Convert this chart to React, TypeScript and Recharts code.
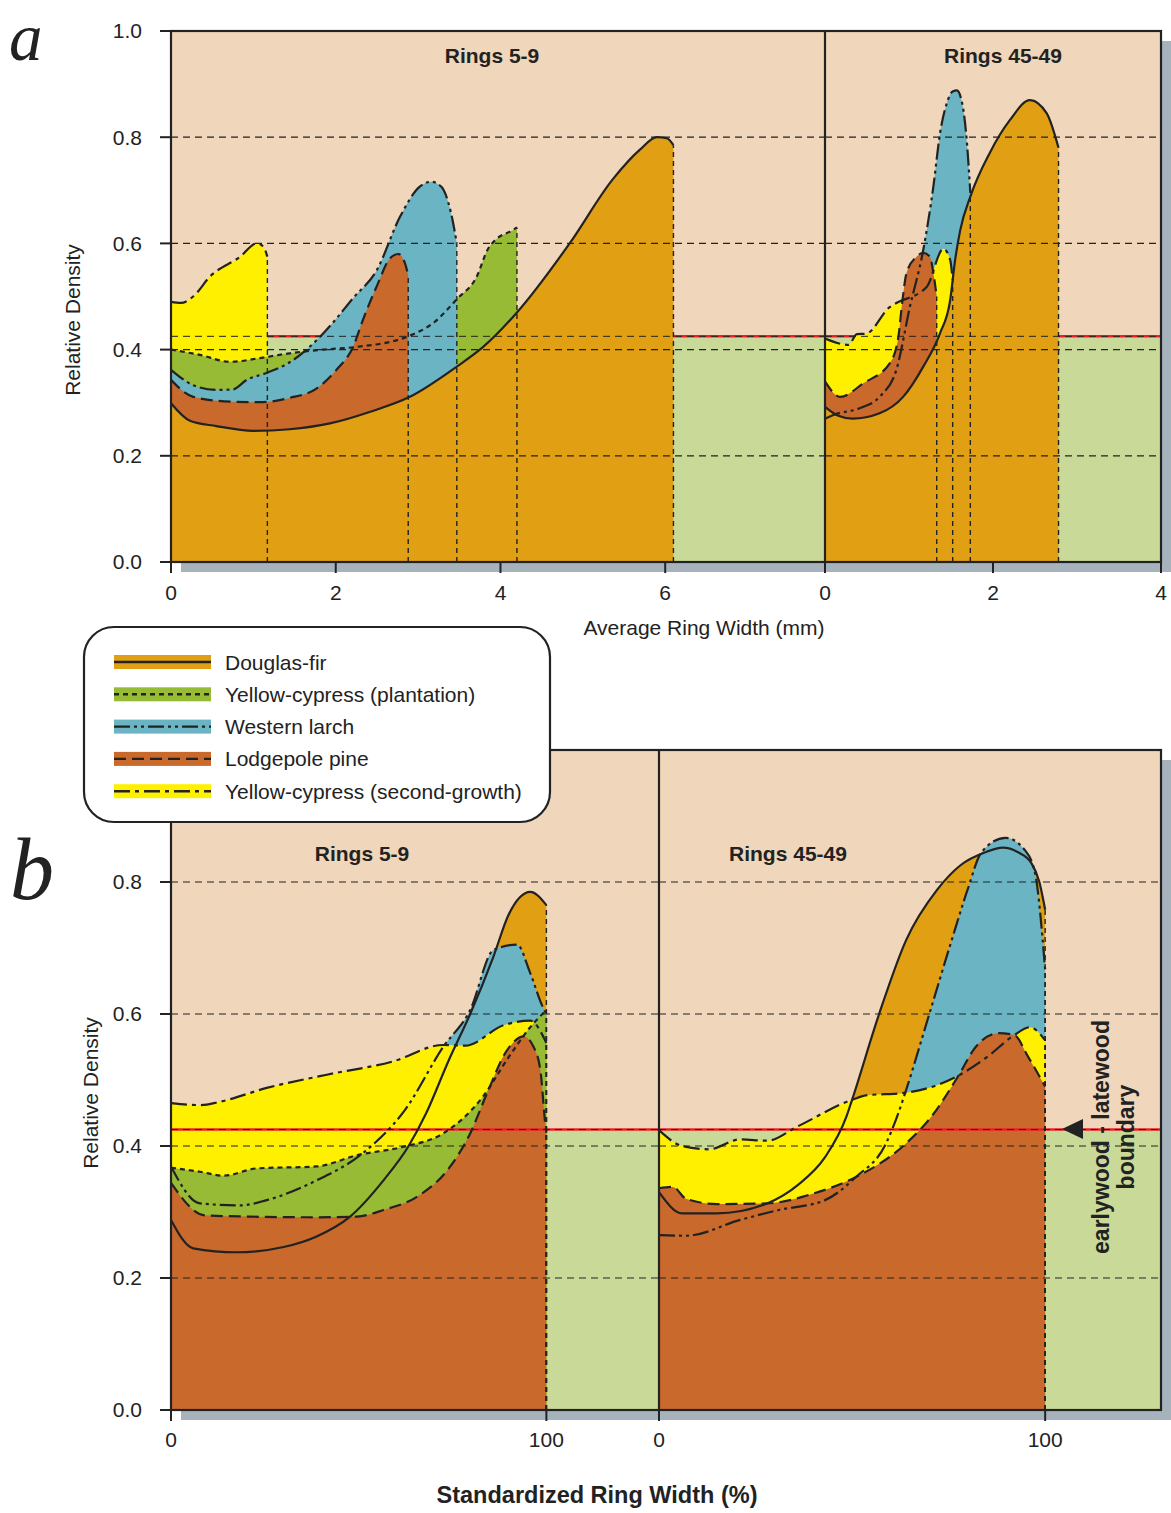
import React from 'react'
import {
    ComposedChart,
    Area,
    Line,
    XAxis,
    YAxis,
    ReferenceArea,
    ReferenceLine,
} from 'recharts'

type Point = [number, number]

// (a) rings 5-9, x = average ring width (mm)
const aEarlyDouglas: Point[] = [[0, 0.299], [0.23, 0.266], [0.55, 0.256], [1.0, 0.247], [1.44, 0.25], [1.93, 0.261], [2.42, 0.283], [2.9, 0.311], [3.47, 0.368], [3.79, 0.405], [4.2, 0.47], [4.84, 0.6], [5.36, 0.72], [5.69, 0.776], [5.9, 0.8], [6.02, 0.798], [6.1, 0.785]]
const aEarlyPlantation: Point[] = [[0, 0.4], [0.35, 0.39], [0.72, 0.377], [1.08, 0.384], [1.44, 0.393], [1.85, 0.4], [2.25, 0.405], [2.86, 0.424], [3.2, 0.452], [3.47, 0.495], [3.71, 0.537], [3.85, 0.59], [3.95, 0.608], [4.15, 0.625], [4.2, 0.63]]
const aEarlyLarch: Point[] = [[0, 0.362], [0.27, 0.333], [0.55, 0.324], [0.75, 0.325], [0.92, 0.343], [1.16, 0.356], [1.48, 0.38], [1.77, 0.418], [2.0, 0.457], [2.2, 0.495], [2.5, 0.55], [2.78, 0.65], [3.02, 0.707], [3.16, 0.716], [3.28, 0.707], [3.4, 0.657], [3.47, 0.6]]
const aEarlyLodgepole: Point[] = [[0, 0.343], [0.27, 0.311], [0.72, 0.302], [1.08, 0.301], [1.44, 0.309], [1.77, 0.327], [2.01, 0.362], [2.21, 0.405], [2.33, 0.456], [2.5, 0.52], [2.66, 0.572], [2.76, 0.58], [2.84, 0.563], [2.88, 0.54]]
const aEarlySecond: Point[] = [[0, 0.49], [0.12, 0.488], [0.27, 0.5], [0.47, 0.537], [0.84, 0.575], [1.04, 0.6], [1.12, 0.594], [1.17, 0.575]]

// (a) rings 45-49
const aLateDouglas: Point[] = [[0, 0.292], [0.15, 0.276], [0.33, 0.27], [0.65, 0.28], [0.93, 0.311], [1.17, 0.368], [1.37, 0.431], [1.49, 0.493], [1.55, 0.57], [1.61, 0.625], [1.73, 0.688], [1.96, 0.77], [2.2, 0.832], [2.44, 0.87], [2.64, 0.845], [2.78, 0.78]]
const aLateLarch: Point[] = [[0, 0.27], [0.1, 0.277], [0.42, 0.29], [0.65, 0.311], [0.85, 0.362], [1.01, 0.48], [1.17, 0.588], [1.29, 0.707], [1.37, 0.808], [1.45, 0.864], [1.52, 0.886], [1.57, 0.888], [1.64, 0.858], [1.69, 0.789], [1.73, 0.695]]
const aLateLodgepole: Point[] = [[0, 0.34], [0.18, 0.311], [0.46, 0.337], [0.77, 0.374], [0.87, 0.42], [0.92, 0.49], [0.97, 0.544], [1.09, 0.575], [1.17, 0.582], [1.25, 0.575], [1.29, 0.544], [1.33, 0.5]]
const aLateSecond: Point[] = [[0, 0.421], [0.28, 0.409], [0.38, 0.429], [0.49, 0.43], [0.77, 0.48], [0.83, 0.486], [1.21, 0.518], [1.41, 0.59], [1.49, 0.569], [1.52, 0.531]]

// (b) rings 5-9, x = standardized ring width (%)
const bEarlyDouglas: Point[] = [[0, 0.288], [5.9, 0.245], [17.5, 0.239], [30, 0.247], [38.8, 0.263], [47.7, 0.293], [56.6, 0.348], [63.3, 0.4], [68, 0.45], [74, 0.53], [79.7, 0.6], [85.9, 0.687], [89.9, 0.75], [95.7, 0.785], [100, 0.765]]
const bEarlyPlantation: Point[] = [[0, 0.367], [7.7, 0.361], [14, 0.355], [22.8, 0.366], [38.8, 0.369], [49.5, 0.386], [62, 0.399], [72.5, 0.419], [83, 0.474], [90, 0.535], [95.7, 0.58], [100, 0.606]]
const bEarlyLarch: Point[] = [[0, 0.369], [7.7, 0.313], [18.4, 0.31], [25.5, 0.318], [38.8, 0.348], [51.3, 0.39], [62, 0.452], [72.5, 0.55], [79.7, 0.606], [85.9, 0.697], [92.2, 0.705], [95.7, 0.662], [99, 0.611], [100, 0.6]]
const bEarlyLodgepole: Point[] = [[0, 0.344], [9, 0.295], [21, 0.293], [38.8, 0.292], [49.5, 0.293], [56.6, 0.303], [65.5, 0.323], [74.4, 0.369], [79.7, 0.419], [84.2, 0.48], [89.5, 0.545], [94, 0.566], [96.6, 0.55], [98.4, 0.515], [99.7, 0.434], [100, 0.42]]
const bEarlySecond: Point[] = [[0, 0.465], [8, 0.462], [13, 0.467], [25.5, 0.488], [41.5, 0.508], [59, 0.528], [72.5, 0.553], [78.4, 0.552], [88.6, 0.583], [95.7, 0.59], [100, 0.556]]

// (b) rings 45-49
const bLateDouglas: Point[] = [[0, 0.33], [6, 0.298], [15, 0.298], [28, 0.313], [36, 0.341], [43, 0.383], [48.5, 0.444], [50, 0.47], [57, 0.6], [64, 0.712], [72, 0.788], [78, 0.825], [84.5, 0.845], [89, 0.852], [93, 0.845], [96.4, 0.829], [98.5, 0.8], [100, 0.758]]
const bLateLarch: Point[] = [[0, 0.265], [7, 0.264], [21, 0.288], [31, 0.303], [43, 0.318], [51, 0.353], [58.8, 0.404], [62, 0.45], [64, 0.485], [70, 0.6], [75.8, 0.712], [80, 0.79], [83.5, 0.845], [89.7, 0.867], [94.8, 0.848], [97.4, 0.813], [100, 0.667]]
const bLateLodgepole: Point[] = [[0, 0.336], [3.6, 0.338], [7, 0.32], [15, 0.312], [28, 0.313], [40, 0.328], [51, 0.353], [64, 0.404], [70.6, 0.445], [77.6, 0.507], [82, 0.55], [88, 0.571], [92, 0.568], [95.6, 0.535], [100, 0.49]]
const bLateSecond: Point[] = [[0, 0.424], [6, 0.4], [13, 0.395], [21, 0.41], [28, 0.408], [36, 0.43], [50, 0.47], [54, 0.477], [63, 0.48], [77, 0.505], [85, 0.535], [92, 0.568], [96, 0.58], [100, 0.56]]

const boundary = 0.425
const gridLevels = [0.2, 0.4, 0.6, 0.8]
const aYTicks = [0, 0.2, 0.4, 0.6, 0.8, 1.0]
const bYTicks = [0, 0.2, 0.4, 0.6, 0.8]
const aEarlyXTicks = [0, 2, 4, 6]
const aLateXTicks = [0, 2, 4]
const bXTicks = [0, 100]

const FONT = '"Liberation Sans", Arial, Helvetica, sans-serif'
const INK = '#222'
const PEACH = '#F0D6BA'
const PALE_GREEN = '#C9DA98'
const RED = '#E8202A'
const SHADOW = '#A6B3BD'

const species: Record<string, { name: string; color: string; dash?: string }> = {
    df: { name: 'Douglas-fir', color: '#E1A014' },
    pl: { name: 'Yellow-cypress (plantation)', color: '#97BB34', dash: '5 4' },
    wl: { name: 'Western larch', color: '#6BB4C3', dash: '16 4 3 4 3 4' },
    lp: { name: 'Lodgepole pine', color: '#C9692C', dash: '12 6' },
    sg: { name: 'Yellow-cypress (second-growth)', color: '#FFF000', dash: '16 5 4 5' },
}
const legendOrder = ['df', 'pl', 'wl', 'lp', 'sg']

type SeriesSet = Record<string, Point[]>

function buildTable(set: SeriesSet) {
    const xs = Array.from(new Set(Object.values(set).flatMap((s) => s.map((p) => p[0])))).sort((a, b) => a - b)
    return xs.map((x) => {
        const row: Record<string, number | null> = { x }
        for (const [key, pts] of Object.entries(set)) {
            const hit = pts.find((p) => p[0] === x)
            row[key] = hit ? hit[1] : null
        }
        return row
    })
}

type SubPanelProps = {
    left: number
    top: number
    width: number
    height: number
    marginTop: number
    marginLeft: number
    marginRight: number
    xAxisHeight: number
    xMax: number
    xTicks: number[]
    xTickMargin: number
    yTicks: number[]
    showY: boolean
    redOnTop: boolean
    set: SeriesSet
    order: string[]
}

function SubPanel(p: SubPanelProps) {
    const table = buildTable(p.set)
    const tickStyle = { fill: INK, fontSize: 21, fontFamily: FONT }
    return (
        <div style={{ position: 'absolute', left: p.left, top: p.top }}>
            <ComposedChart
                width={p.width}
                height={p.height}
                data={table}
                margin={{ top: p.marginTop, right: p.marginRight, bottom: 0, left: p.marginLeft }}
            >
                <XAxis
                    type="number"
                    dataKey="x"
                    domain={[0, p.xMax]}
                    ticks={p.xTicks}
                    interval={0}
                    height={p.xAxisHeight}
                    axisLine={false}
                    tickSize={11}
                    tickMargin={p.xTickMargin}
                    tickLine={{ stroke: INK, strokeWidth: 2 }}
                    tick={tickStyle}
                />
                <YAxis
                    type="number"
                    domain={[0, 1]}
                    ticks={p.yTicks}
                    interval={0}
                    hide={!p.showY}
                    width={171}
                    axisLine={false}
                    tickSize={11}
                    tickMargin={18}
                    tickLine={{ stroke: INK, strokeWidth: 2 }}
                    tick={tickStyle}
                    tickFormatter={(v: number) => v.toFixed(1)}
                />
                <ReferenceArea y1={boundary} y2={1} fill={PEACH} fillOpacity={1} stroke="none" zIndex={-300} />
                <ReferenceArea y1={0} y2={boundary} fill={PALE_GREEN} fillOpacity={1} stroke="none" zIndex={-300} />
                {!p.redOnTop && (
                    <ReferenceLine y={boundary} stroke={RED} strokeWidth={2.5} zIndex={-250} />
                )}
                {p.order.map((k) => (
                    <Area
                        key={'fill-' + k}
                        dataKey={k}
                        type="monotone"
                        fill={species[k].color}
                        fillOpacity={1}
                        stroke="none"
                        connectNulls
                        dot={false}
                        activeDot={false}
                        isAnimationActive={false}
                    />
                ))}
                {gridLevels.map((g) => (
                    <ReferenceLine
                        key={'grid-' + g}
                        y={g}
                        stroke={INK}
                        strokeWidth={1.2}
                        strokeDasharray="7 5"
                        zIndex={300}
                    />
                ))}
                {p.redOnTop && (
                    <ReferenceLine y={boundary} stroke={RED} strokeWidth={2.5} zIndex={300} />
                )}
                <ReferenceLine y={boundary} stroke={INK} strokeWidth={1} strokeDasharray="7 5" zIndex={310} />
                {p.order.map((k) => {
                    const pts = p.set[k]
                    const [ex, ey] = pts[pts.length - 1]
                    return (
                        <ReferenceLine
                            key={'end-' + k}
                            segment={[
                                { x: ex, y: 0 },
                                { x: ex, y: ey },
                            ]}
                            stroke={INK}
                            strokeWidth={1.4}
                            strokeDasharray="5 4"
                            zIndex={320}
                        />
                    )
                })}
                {p.order.map((k) => (
                    <Line
                        key={'line-' + k}
                        dataKey={k}
                        type="monotone"
                        stroke={INK}
                        strokeWidth={2.2}
                        strokeDasharray={species[k].dash}
                        connectNulls
                        dot={false}
                        activeDot={false}
                        isAnimationActive={false}
                    />
                ))}
            </ComposedChart>
        </div>
    )
}

function Legend() {
    return (
        <g>
            <rect x={84} y={627} width={466} height={195} rx={30} fill="#fff" stroke={INK} strokeWidth={2.2} />
            {legendOrder.map((k, i) => {
                const y = 662 + i * 32.3
                const s = species[k]
                return (
                    <g key={k}>
                        <rect x={114} y={y - 7} width={97} height={14} fill={s.color} />
                        <line x1={114} x2={211} y1={y} y2={y} stroke={INK} strokeWidth={2.4} strokeDasharray={s.dash} />
                        <text x={225} y={y} dominantBaseline="central" fontSize={21} fontFamily={FONT} fill={INK}>
                            {s.name}
                        </text>
                    </g>
                )
            })}
        </g>
    )
}

export default function App() {
    const boldTitle = { fontSize: 21, fontWeight: 700, fontFamily: FONT, fill: INK, textAnchor: 'middle' as const }
    const serif = '"Liberation Serif", "DejaVu Serif", serif'
    return (
        <div style={{ position: 'relative', width: 1171, height: 1513, background: '#fff', overflow: 'hidden' }}>
            <style>{'body{margin:0}'}</style>

            {/* drop shadows behind both plot frames */}
            <div style={{ position: 'absolute', left: 181, top: 41, width: 990, height: 531, background: SHADOW }} />
            <div style={{ position: 'absolute', left: 181, top: 760, width: 990, height: 660, background: SHADOW }} />

            <SubPanel
                left={0} top={0} width={825} height={620} marginTop={31} marginLeft={0} marginRight={0} xAxisHeight={58}
                xMax={7.94} xTicks={aEarlyXTicks} xTickMargin={12} yTicks={aYTicks} showY redOnTop={false}
                set={{ sg: aEarlySecond, pl: aEarlyPlantation, wl: aEarlyLarch, lp: aEarlyLodgepole, df: aEarlyDouglas }}
                order={['sg', 'pl', 'wl', 'lp', 'df']}
            />
            <SubPanel
                left={805} top={0} width={366} height={620} marginTop={31} marginLeft={20} marginRight={10} xAxisHeight={58}
                xMax={4} xTicks={aLateXTicks} xTickMargin={12} yTicks={aYTicks} showY={false} redOnTop={false}
                set={{ wl: aLateLarch, sg: aLateSecond, lp: aLateLodgepole, df: aLateDouglas }}
                order={['wl', 'sg', 'lp', 'df']}
            />
            <SubPanel
                left={0} top={700} width={659} height={760} marginTop={50} marginLeft={0} marginRight={0} xAxisHeight={50}
                xMax={130} xTicks={bXTicks} xTickMargin={11} yTicks={bYTicks} showY redOnTop
                set={{ df: bEarlyDouglas, wl: bEarlyLarch, sg: bEarlySecond, pl: bEarlyPlantation, lp: bEarlyLodgepole }}
                order={['df', 'wl', 'sg', 'pl', 'lp']}
            />
            <SubPanel
                left={639} top={700} width={532} height={760} marginTop={50} marginLeft={20} marginRight={10} xAxisHeight={50}
                xMax={130} xTicks={bXTicks} xTickMargin={11} yTicks={bYTicks} showY={false} redOnTop
                set={{ df: bLateDouglas, wl: bLateLarch, sg: bLateSecond, lp: bLateLodgepole }}
                order={['df', 'wl', 'sg', 'lp']}
            />

            <svg width={1171} height={1513} style={{ position: 'absolute', left: 0, top: 0, pointerEvents: 'none' }}>
                {/* frames and dividers */}
                <rect x={171} y={31} width={990} height={531} fill="none" stroke={INK} strokeWidth={2.2} />
                <line x1={825} x2={825} y1={31} y2={562} stroke={INK} strokeWidth={2.2} />
                <rect x={171} y={750} width={990} height={660} fill="none" stroke={INK} strokeWidth={2.2} />
                <line x1={659} x2={659} y1={750} y2={1410} stroke={INK} strokeWidth={2.2} />

                <text x={9} y={60} fontSize={67} fontStyle="italic" fontFamily={serif} fill={INK}>a</text>
                <text x={10} y={899} fontSize={88} fontStyle="italic" fontFamily={serif} fill={INK}>b</text>

                <text x={492} y={55} dominantBaseline="central" {...boldTitle}>Rings 5-9</text>
                <text x={1003} y={55} dominantBaseline="central" {...boldTitle}>Rings 45-49</text>
                <text x={362} y={853} dominantBaseline="central" {...boldTitle}>Rings 5-9</text>
                <text x={788} y={853} dominantBaseline="central" {...boldTitle}>Rings 45-49</text>

                <text x={704} y={627} dominantBaseline="central" textAnchor="middle" fontSize={21} fontFamily={FONT} fill={INK}>
                    Average Ring Width (mm)
                </text>
                <text x={597} y={1495} dominantBaseline="central" textAnchor="middle" fontSize={23.5} fontWeight={700} fontFamily={FONT} fill={INK}>
                    Standardized Ring Width (%)
                </text>
                <text transform="translate(72 320) rotate(-90)" dominantBaseline="central" textAnchor="middle" fontSize={21} fontFamily={FONT} fill={INK}>
                    Relative Density
                </text>
                <text transform="translate(90 1093) rotate(-90)" dominantBaseline="central" textAnchor="middle" fontSize={21} fontFamily={FONT} fill={INK}>
                    Relative Density
                </text>

                {/* boundary annotation */}
                <polygon points="1062,1129 1083,1119 1083,1139" fill={INK} />
                <text transform="translate(1101 1137) rotate(-90)" dominantBaseline="central" textAnchor="middle" fontSize={23} fontWeight={700} fontFamily={FONT} fill={INK}>
                    earlywood - latewood
                </text>
                <text transform="translate(1126 1137) rotate(-90)" dominantBaseline="central" textAnchor="middle" fontSize={23} fontWeight={700} fontFamily={FONT} fill={INK}>
                    boundary
                </text>

                <Legend />
            </svg>
        </div>
    )
}
